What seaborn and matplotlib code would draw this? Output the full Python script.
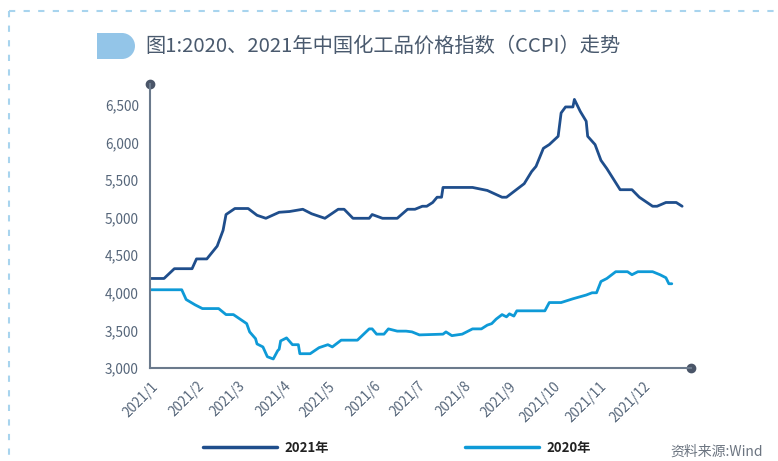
import matplotlib
matplotlib.use("Agg")
import matplotlib.pyplot as plt
import matplotlib.patches as mpatches
from matplotlib.lines import Line2D
import seaborn as sns
import pandas as pd

# CCPI, 2020 and 2021, plotted against the same calendar (month-day)
DATES_2021 = ["01-01", "01-10", "01-17", "01-29", "02-01", "02-08", "02-15", "02-19", "02-21", "02-27",
              "03-08", "03-14", "03-20", "03-29", "04-05", "04-14", "04-20", "04-29", "05-08", "05-12",
              "05-18", "05-29", "05-31", "06-07", "06-17", "06-24", "06-29", "07-04", "07-07", "07-11",
              "07-14", "07-17", "07-18", "08-07", "08-17", "08-27", "08-30", "09-11", "09-16", "09-19",
              "09-24", "09-28", "10-04", "10-06", "10-09", "10-14", "10-15", "10-19", "10-23", "10-24",
              "10-29", "11-02", "11-06", "11-15", "11-23", "11-28", "12-07", "12-10", "12-16", "12-23",
              "12-27"]
CCPI_2021 = [4190, 4190, 4320, 4320, 4450, 4450, 4620, 4830, 5040, 5120,
             5120, 5030, 4990, 5070, 5080, 5110, 5050, 4990, 5110, 5110,
             4990, 4990, 5040, 4990, 4990, 5110, 5110, 5150, 5150, 5200,
             5270, 5270, 5400, 5400, 5360, 5270, 5270, 5450, 5610, 5680,
             5920, 5970, 6080, 6390, 6470, 6470, 6570, 6410, 6280, 6080,
             5970, 5760, 5650, 5370, 5370, 5270, 5150, 5150, 5200, 5200,
             5150]

DATES_2020 = ["01-01", "01-22", "01-25", "01-31", "02-05", "02-16", "02-21", "02-26", "03-07", "03-09",
              "03-13", "03-14", "03-18", "03-21", "03-25", "03-28", "03-29", "03-30", "04-03", "04-07",
              "04-11", "04-12", "04-19", "04-25", "05-01", "05-04", "05-10", "05-21", "05-29", "05-31",
              "06-03", "06-08", "06-11", "06-17", "06-23", "06-27", "07-02", "07-18", "07-20", "07-24",
              "07-31", "08-07", "08-13", "08-17", "08-20", "08-23", "08-27", "08-30", "09-01", "09-04",
              "09-06", "09-25", "09-28", "10-06", "10-14", "10-23", "10-27", "10-30", "11-02", "11-06",
              "11-12", "11-20", "11-23", "11-27", "12-07", "12-12", "12-16", "12-18", "12-20"]
CCPI_2020 = [4040, 4040, 3910, 3840, 3790, 3790, 3710, 3710, 3590, 3480,
             3390, 3320, 3280, 3150, 3120, 3230, 3250, 3360, 3400, 3310,
             3310, 3190, 3190, 3270, 3310, 3280, 3370, 3370, 3520, 3520,
             3450, 3450, 3520, 3490, 3490, 3480, 3440, 3450, 3480, 3430,
             3450, 3520, 3520, 3570, 3590, 3650, 3710, 3680, 3720, 3690,
             3760, 3760, 3870, 3870, 3920, 3970, 4000, 4000, 4150, 4190,
             4280, 4280, 4240, 4280, 4280, 4240, 4200, 4120, 4120]

SERIES = ["2021年", "2020年"]
COLORS = ["#1f4e8c", "#0e9ad7"]
MONTH_LABELS = [f"2021/{m}" for m in range(1, 13)]
Y_TICKS = [3000, 3500, 4000, 4500, 5000, 5500, 6000, 6500]

TITLE = "图1:2020、2021年中国化工品价格指数（CCPI）走势"
SOURCE = "资料来源:Wind"

AXIS_COLOR = "#6b7a8c"
TEXT_COLOR = "#56667a"


def build_frame():
    d21 = pd.DataFrame({"date": pd.to_datetime(["2021-" + d for d in DATES_2021]),
                        "ccpi": CCPI_2021, "series": SERIES[0]})
    d20 = pd.DataFrame({"date": pd.to_datetime(["2021-" + d for d in DATES_2020]),
                        "ccpi": CCPI_2020, "series": SERIES[1]})
    return pd.concat([d21, d20], ignore_index=True)


def main():
    sns.set_style("white")
    plt.rcParams["font.family"] = ["Noto Sans CJK SC", "DejaVu Sans"]

    df = build_frame()

    fig = plt.figure(figsize=(7.78, 4.61), dpi=100)
    ax = fig.add_axes([150 / 778, 1 - 368 / 461, 541 / 778, 284 / 461])

    sns.lineplot(data=df, x="date", y="ccpi", hue="series", hue_order=SERIES,
                 palette=COLORS, linewidth=2.0, ax=ax, legend=False, estimator=None,
                 sort=True)

    ax.set_xlim(pd.Timestamp("2020-12-31 12:00"), pd.Timestamp("2022-01-02"))
    ax.set_ylim(3000, 6775)
    ax.set_xlabel("")
    ax.set_ylabel("")

    ax.set_yticks(Y_TICKS)
    ax.set_yticklabels([f"{v:,}" for v in Y_TICKS])
    ax.set_xticks(pd.date_range("2021-01-01", periods=12, freq="MS"))
    ax.set_xticklabels(MONTH_LABELS, rotation=45, ha="right", rotation_mode="anchor")
    ax.tick_params(axis="both", length=0, colors=TEXT_COLOR, labelsize=9.8)
    ax.tick_params(axis="x", pad=8)
    ax.tick_params(axis="y", pad=8)

    for side in ["top", "right"]:
        ax.spines[side].set_visible(False)
    for side in ["left", "bottom"]:
        ax.spines[side].set_color(AXIS_COLOR)
        ax.spines[side].set_linewidth(1.5)

    # end dots on the axes
    ax.plot([0], [1], "o", color="#4a5568", markersize=6, transform=ax.transAxes, clip_on=False)
    ax.plot([1], [0], "o", color="#4a5568", markersize=6, transform=ax.transAxes, clip_on=False)

    # title badge and title
    W, H = 778, 461
    fig.patches.append(mpatches.Rectangle((97 / W, 1 - 59 / H), 25 / W, 26 / H,
                                          transform=fig.transFigure, color="#93c5e8", lw=0))
    fig.patches.append(mpatches.Ellipse((122 / W, 1 - 46 / H), 26 / W, 26 / H,
                                        transform=fig.transFigure, color="#93c5e8", lw=0))
    fig.text(145 / W, 1 - 46 / H, TITLE, fontsize=14.6, color="#4a5a6e", va="center", ha="left")

    # dashed frame
    fig.add_artist(Line2D([9 / W, 1], [1 - 11 / H, 1 - 11 / H], transform=fig.transFigure,
                          color="#a8d4ee", lw=1.5, linestyle=(0, (3, 4))))
    fig.add_artist(Line2D([9 / W, 9 / W], [1 - 11 / H, 1 - 458 / H], transform=fig.transFigure,
                          color="#a8d4ee", lw=1.5, linestyle=(0, (3, 4))))

    # legend
    handles = [Line2D([], [], color=c, lw=2.5) for c in COLORS]
    fig.legend(handles, SERIES, loc="center left", bbox_to_anchor=(191 / W, 1 - 448 / H),
               ncol=2, frameon=False, handlelength=5.6, handletextpad=0.6, columnspacing=10.3,
               prop={"size": 9.5, "weight": "bold"}, labelcolor="#222222")

    fig.text(763 / W, 1 - 452 / H, SOURCE, fontsize=10, color="#6b7480", ha="right", va="center")

    fig.savefig("out.png", dpi=100)
    plt.close(fig)


if __name__ == "__main__":
    main()
